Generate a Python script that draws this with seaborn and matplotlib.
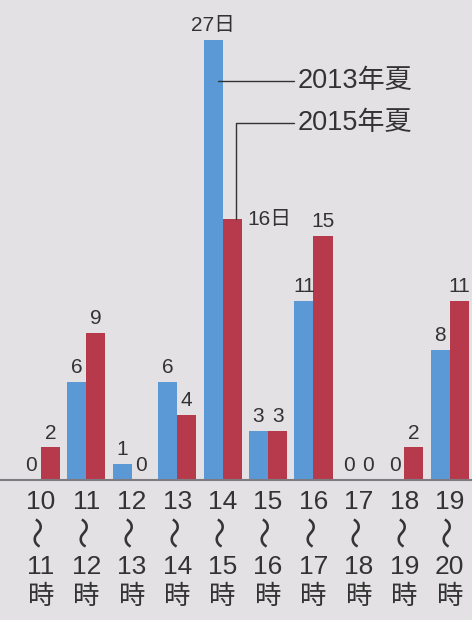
import matplotlib
matplotlib.use("Agg")
import matplotlib.pyplot as plt
import seaborn as sns
import pandas as pd

# Days per time slot, summers of 2013 and 2015
slot_start = ["10", "11", "12", "13", "14", "15", "16", "17", "18", "19"]
slot_end = ["11", "12", "13", "14", "15", "16", "17", "18", "19", "20"]
summer_2013 = [0, 6, 1, 6, 27, 3, 11, 0, 0, 8]
summer_2015 = [2, 9, 0, 4, 16, 3, 15, 0, 2, 11]
series_names = ["2013年夏", "2015年夏"]

BG = "#e3e1e4"
BLUE = "#5a99d6"
RED = "#b73a4c"
INK = "#333333"
FONTS = ["Liberation Sans", "Noto Sans CJK JP", "DejaVu Sans"]

sns.set_theme(style="white")
plt.rcParams["font.family"] = FONTS

slots = [f"{a}-{b}" for a, b in zip(slot_start, slot_end)]
df = pd.DataFrame({
    "slot": slots * 2,
    "days": summer_2013 + summer_2015,
    "year": [series_names[0]] * len(slots) + [series_names[1]] * len(slots),
})

fig = plt.figure(figsize=(4.72, 6.2), dpi=100, facecolor=BG)
ax = fig.add_axes([0, 1 - 480 / 620, 1, 480 / 620])
ax.set_facecolor(BG)

sns.barplot(data=df, x="slot", y="days", hue="year", order=slots,
            hue_order=series_names, palette=[BLUE, RED], width=0.84,
            saturation=1, linewidth=0, legend=False, ax=ax)

ax.set_xlim(-0.9, 9.49)
ax.set_ylim(0, 29.45)
ax.set_xlabel("")
ax.set_ylabel("")
ax.set_yticks([])
for side in ("left", "right", "top"):
    ax.spines[side].set_visible(False)
ax.spines["bottom"].set_color("#7d7b80")
ax.spines["bottom"].set_linewidth(1.5)
ax.tick_params(axis="x", length=0, pad=7)
ax.set_xticks(range(len(slots)))
# start hour as the tick label
ax.set_xticklabels(slot_start, fontsize=19, color=INK)

# vertical wave dash, then the end hour and 時
for i, end in enumerate(slot_end):
    ax.annotate("〜", xy=(i, 0), xycoords=("data", "axes fraction"),
                xytext=(0, -36.5), textcoords="offset points", rotation=90,
                rotation_mode="anchor", ha="center", va="center",
                fontsize=23, color=INK, family=["Noto Sans CJK JP"])
    ax.annotate(f"{end}\n時", xy=(i, 0), xycoords=("data", "axes fraction"),
                xytext=(0, -54), textcoords="offset points",
                ha="center", va="top", fontsize=19, color=INK,
                linespacing=1.3)

blue_bars, red_bars = ax.containers[0], ax.containers[1]
VAL_FS = 15

def label(bar, value, text=None):
    x = bar.get_x() + bar.get_width() / 2
    ax.text(x, value + 0.3, text if text is not None else str(value),
            ha="center", va="bottom", fontsize=VAL_FS, color=INK)

peak = 4
for i, (b, v) in enumerate(zip(blue_bars, summer_2013)):
    label(b, v, f"{v}日" if i == peak else None)
for i, (b, v) in enumerate(zip(red_bars, summer_2015)):
    if i == peak:
        ax.text(b.get_x() + b.get_width() + 0.12, v, f"{v}日",
                ha="left", va="center", fontsize=VAL_FS, color=INK)
    else:
        label(b, v)

# Leader lines naming each series
bb = blue_bars[peak]
rb = red_bars[peak]
text_x = 5.66
y1, y2 = 24.5, 21.9
ax.plot([bb.get_x() + bb.get_width() * 0.75, text_x - 0.08], [y1, y1],
        color=INK, lw=1)
ax.plot([rb.get_x() + rb.get_width() * 0.7, rb.get_x() + rb.get_width() * 0.7,
         text_x - 0.08], [summer_2015[peak], y2, y2], color=INK, lw=1)
ax.text(text_x, y1, series_names[0], ha="left", va="center", fontsize=19.5, color=INK)
ax.text(text_x, y2, series_names[1], ha="left", va="center", fontsize=19.5, color=INK)

fig.savefig("out.png", dpi=100, facecolor=BG)
